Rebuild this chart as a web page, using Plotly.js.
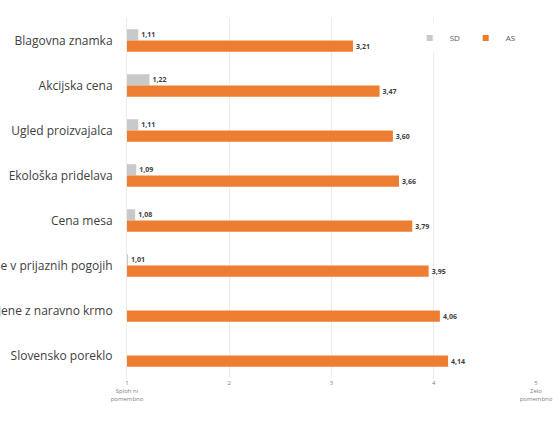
<!DOCTYPE html>
<html>
<head>
<meta charset="utf-8">
<script src="https://cdn.plot.ly/plotly-3.0.1.min.js"></script>
<style>html,body{margin:0;padding:0;background:#fff}#chart{width:558px;height:421px}</style>
</head>
<body>
<div id="chart"></div>
<script>
var categories = ["Blagovna znamka", "Akcijska cena", "Ugled proizvajalca", "Ekološka pridelava", "Cena mesa", "Vzrejene v prijaznih pogojih", "Hranjene z naravno krmo", "Slovensko poreklo"];
var sdValues = [1.11, 1.22, 1.11, 1.09, 1.08, 1.01, null, null];
var asValues = [3.21, 3.47, 3.60, 3.66, 3.79, 3.95, 4.06, 4.14];
var seriesNames = ["SD", "AS"];
var seriesColors = ["#C9C9CB", "#ED7D31"];
var tickVals = [1, 2, 3, 4, 5];
var tickText = ["1<br>Sploh ni<br>pomembno", "2", "3", "4", "5<br>Zelo<br>pomembno"];

var textFont = {family: "'Open Sans', sans-serif", size: 7, color: "#404040", weight: "bold"};

var traces = [
  {type: "bar", orientation: "h", name: seriesNames[0], y: categories, x: sdValues,
   marker: {color: seriesColors[0]}, showlegend: false,
   texttemplate: "%{x:.2f}", textposition: "outside", textfont: textFont, cliponaxis: false,
   hoverinfo: "skip"},
  {type: "bar", orientation: "h", name: seriesNames[1], y: categories, x: asValues,
   marker: {color: seriesColors[1]}, showlegend: false, texttemplate: "%{x:.2f}", textposition: "outside",
   textfont: textFont, cliponaxis: false, hoverinfo: "skip"},
  {type: "scatter", mode: "markers", name: seriesNames[0], x: [null], y: [null],
   marker: {symbol: "square", size: 6, color: seriesColors[0]}, hoverinfo: "skip"},
  {type: "scatter", mode: "markers", name: seriesNames[1], x: [null], y: [null],
   marker: {symbol: "square", size: 6, color: seriesColors[1]}, hoverinfo: "skip"}
];

var layout = {
  width: 558, height: 421,
  margin: {l: 127, r: 22, t: 18, b: 43},
  paper_bgcolor: "#ffffff", plot_bgcolor: "#ffffff",
  separators: ", ",
  barmode: "group", bargap: 0.5, bargroupgap: 0,
  font: {family: "'Open Sans', sans-serif", color: "#404040"},
  showlegend: true,
  legend: {orientation: "h", x: 0.965, y: 0.985, xanchor: "right", yanchor: "top",
           font: {size: 8, color: "#595959"}, traceorder: "normal",
           entrywidth: 11, entrywidthmode: "pixels", itemwidth: 30, tracegroupgap: 0},
  xaxis: {range: [1, 5], tickmode: "array", tickvals: tickVals, ticktext: tickText,
          showgrid: true, gridcolor: "#ececec", gridwidth: 1, zeroline: false,
          showline: false, ticks: "", tickfont: {size: 6, color: "#7f7f7f"},
          automargin: false, fixedrange: true},
  yaxis: {type: "category", autorange: "reversed", showgrid: false, zeroline: false,
          showline: true, linecolor: "#ececec", ticks: "", ticklabelstandoff: 11,
          tickfont: {size: 12, color: "#404040"}, automargin: false}
};

Plotly.newPlot("chart", traces, layout, {displayModeBar: false, staticPlot: true});
</script>
</body>
</html>
